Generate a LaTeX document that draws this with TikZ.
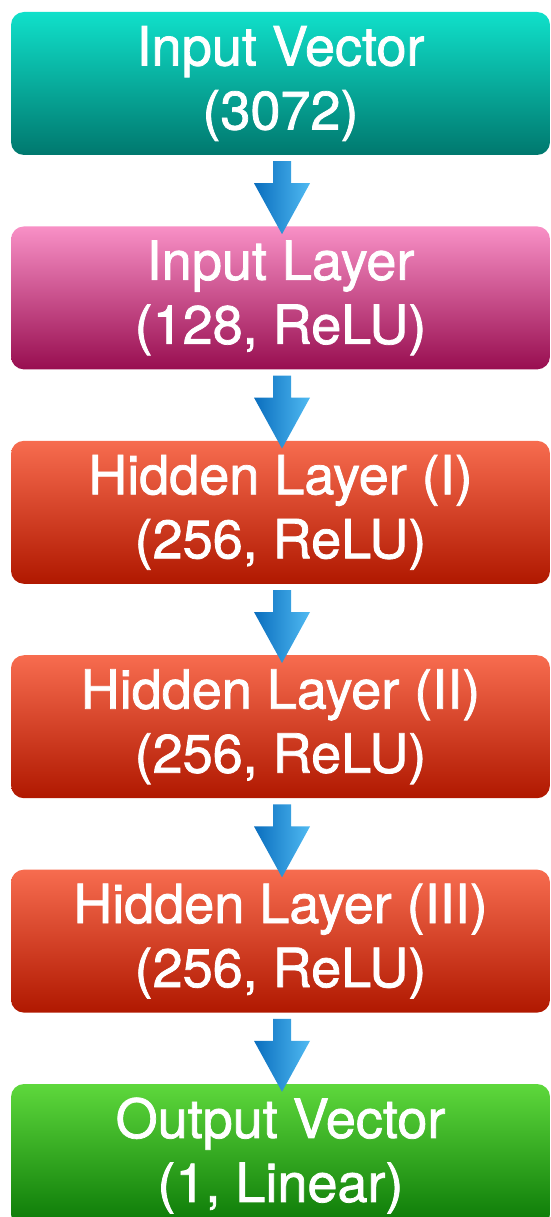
\documentclass[tikz,border=0pt]{standalone}
\usepackage{fontspec}
\setmainfont{TeX Gyre Heros}
\newfontfamily\boxfont[FakeBold=1.4]{TeX Gyre Heros}
\usetikzlibrary{positioning}
\usetikzlibrary{calc}
\definecolor{tealtop}{HTML}{10E0CA}
\definecolor{tealbot}{HTML}{00786E}
\definecolor{pinktop}{HTML}{F890C6}
\definecolor{pinkbot}{HTML}{980E50}
\definecolor{redtop}{HTML}{F76C4F}
\definecolor{redbot}{HTML}{B01800}
\definecolor{greentop}{HTML}{5ED83C}
\definecolor{greenbot}{HTML}{0A7806}
\definecolor{arrdark}{HTML}{0A6EBE}
\definecolor{arrlight}{HTML}{50BAF2}

\begin{document}
\begin{tikzpicture}[
    node distance=71pt,
    layer/.style={rectangle,rounded corners=13pt,minimum width=539pt,minimum height=143pt,text centered,align=center,text=white,font=\boxfont\fontsize{54}{64}\selectfont},
    vecbox/.style={layer,top color=tealtop,bottom color=tealbot},
    inbox/.style={layer,top color=pinktop,bottom color=pinkbot},
    hidbox/.style={layer,top color=redtop,bottom color=redbot},
    outbox/.style={layer,top color=greentop,bottom color=greenbot},
    arr/.style={left color=arrdark,right color=arrlight}
    ]
    \useasboundingbox (0,0) rectangle (550pt,-1217pt);
    \node (vin) [vecbox] at (280.5pt,-83.5pt) {Input Vector\\(3072)};
    \node (lin) [inbox,below=of vin] {Input Layer\\(128, ReLU)};
    \node (hid1) [hidbox,below=of lin] {Hidden Layer (I)\\(256, ReLU)};
    \node (hid2) [hidbox,below=of hid1] {Hidden Layer (II)\\(256, ReLU)};
    \node (hid3) [hidbox,below=of hid2] {Hidden Layer (III)\\(256, ReLU)};
    \node (vout) [outbox,below=of hid3] {Output Vector\\(1, Linear)};
    \foreach \a/\b in {vin/lin,lin/hid1,hid1/hid2,hid2/hid3,hid3/vout}
      \path[arr] ($(\a.south)+(-7.5pt,-6pt)$) -- ($(\a.south)+(10.5pt,-6pt)$)
        -- ($(\a.south)+(10.5pt,-28pt)$) -- ($(\a.south)+(29.5pt,-28pt)$)
        -- ($(\b.north)+(1.5pt,-8pt)$) -- ($(\a.south)+(-26.5pt,-28pt)$)
        -- ($(\a.south)+(-7.5pt,-28pt)$) -- cycle;
\end{tikzpicture}
\end{document}
